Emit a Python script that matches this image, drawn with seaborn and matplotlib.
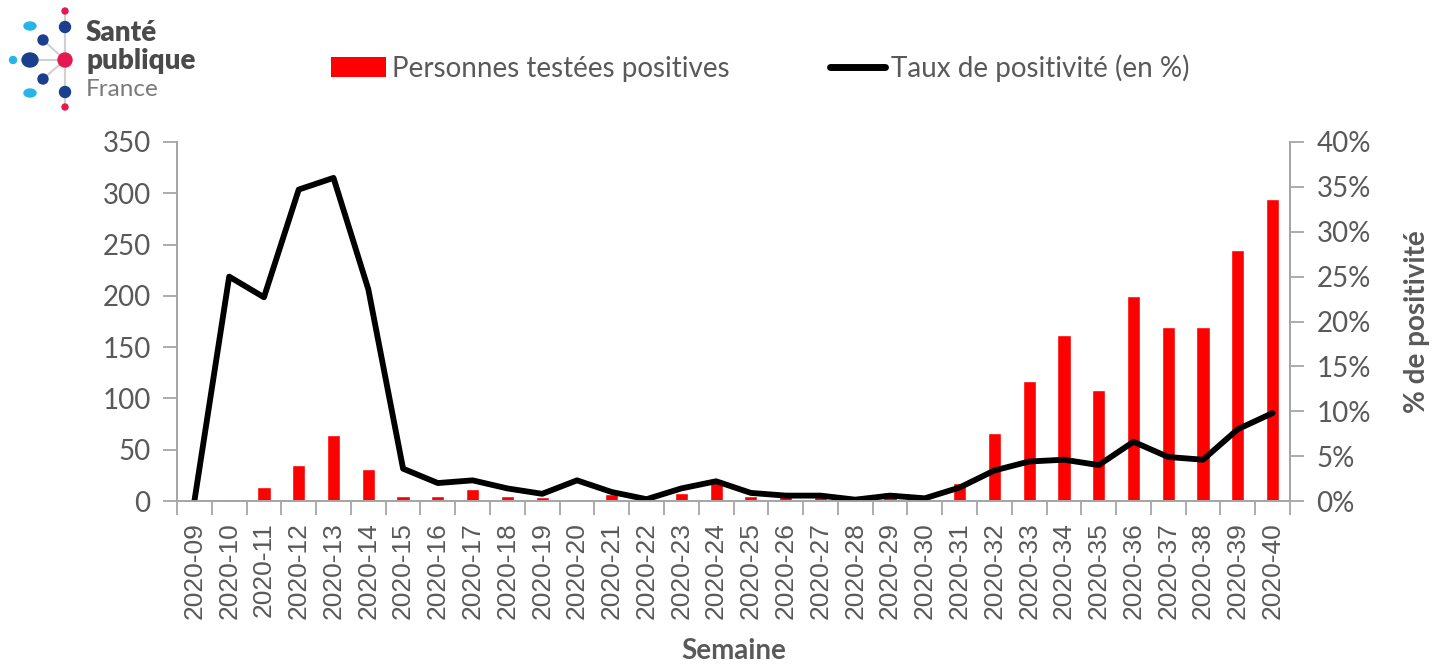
import numpy as np
import pandas as pd
import matplotlib
matplotlib.use("Agg")
import matplotlib.pyplot as plt
import matplotlib.ticker as mticker
from matplotlib.patches import Patch, Ellipse
from matplotlib.lines import Line2D
import seaborn as sns

weeks = [f"2020-{w:02d}" for w in range(9, 41)]
positives = [0, 2, 14, 35, 64, 31, 5, 5, 12, 5, 4, 0, 7, 0, 8, 20,
             5, 5, 7, 0, 9, 1, 18, 66, 117, 162, 108, 200, 170, 170, 245, 294]
taux = [0.0, 25.0, 22.7, 34.7, 36.0, 23.6, 3.6, 2.0, 2.3, 1.4, 0.8, 2.3,
        1.0, 0.2, 1.4, 2.2, 0.9, 0.6, 0.6, 0.15, 0.6, 0.3, 1.5, 3.4,
        4.4, 4.6, 4.0, 6.6, 4.9, 4.6, 8.0, 9.8]

df = pd.DataFrame({"semaine": weeks, "positives": positives, "taux": np.array(taux) / 100})

sns.set_theme(style="white")
plt.rcParams["font.family"] = ["Lato", "DejaVu Sans"]
grey = "#595959"
spine_c = "#a6a6a6"

fig = plt.figure(figsize=(14.49, 6.69), dpi=100)
ax = fig.add_axes([177 / 1449, 1 - 501 / 669, 1113 / 1449, 359 / 669])

sns.barplot(data=df, x="semaine", y="positives", color="#ff0000", width=0.38,
            saturation=1, ax=ax)
ax.set_ylim(0, 350)
ax.set_yticks(range(0, 351, 50))
ax.set_xlim(-0.5, len(weeks) - 0.5)
ax.set_xlabel("Semaine", fontsize=20, fontweight="bold", color=grey, labelpad=14)
ax.set_ylabel("")

ax2 = ax.twinx()
sns.lineplot(data=df, x="semaine", y="taux", color="black", linewidth=4.2,
             sort=False, ax=ax2, solid_joinstyle="round", solid_capstyle="round")
ax2.set_ylim(0, 0.40)
ax2.set_yticks(np.arange(0, 0.401, 0.05))
ax2.yaxis.set_major_formatter(mticker.PercentFormatter(1.0, decimals=0))
ax2.set_ylabel("% de positivité", fontsize=20, fontweight="bold", color=grey, labelpad=24)
ax2.set_xlim(-0.5, len(weeks) - 0.5)

for a in (ax, ax2):
    a.spines["top"].set_visible(False)
    for s in ("left", "right", "bottom"):
        a.spines[s].set_color(spine_c)
        a.spines[s].set_linewidth(1.3)
    a.tick_params(axis="y", labelsize=20, labelcolor=grey, color=spine_c,
                  length=10, width=1.3, direction="out", pad=9,
                  left=(a is ax), right=(a is ax2))

ax.set_xticks(range(len(weeks)))
ax.set_xticklabels(weeks, rotation=90, family="Liberation Sans", fontsize=19, color=grey)
ax.tick_params(axis="x", which="major", length=0, pad=15)
ax.set_xticks(np.arange(-0.5, len(weeks), 1), minor=True)
ax.tick_params(axis="x", which="minor", length=10, width=1.3, color=spine_c, bottom=True)
ax2.tick_params(axis="x", bottom=False, labelbottom=False)

handles = [Patch(facecolor="#ff0000", edgecolor="none", label="Personnes testées positives"),
           Line2D([0], [0], color="black", linewidth=5, label="Taux de positivité (en %)")]
fig.legend(handles=handles, loc="center", bbox_to_anchor=(760 / 1449, 1 - 68 / 669),
           ncol=2, frameon=False, fontsize=20, labelcolor=grey, columnspacing=3.6,
           handlelength=2.0, handletextpad=0.2)

# logo
lg = fig.add_axes([0, 1 - 115 / 669, 210 / 1449, 115 / 669])
lg.set_xlim(0, 210)
lg.set_ylim(115, 0)
lg.axis("off")
lg.plot([65, 65], [12, 107], color="#d0d0d0", lw=1.5, zorder=1)
for (x, y) in [(43, 40), (43, 79), (30, 60)]:
    lg.plot([65, x], [60, y], color="#d0d0d0", lw=1.5, zorder=1)
dots = [(65, 60, 14, 14, "#e5194f"), (65, 27, 11, 11, "#1b3f8f"), (65, 92, 11, 11, "#1b3f8f"),
        (65, 11, 6, 6, "#e5194f"), (65, 107, 6, 6, "#e5194f"), (30, 60, 16, 14, "#1b3f8f"),
        (13, 60, 7, 7, "#27b4e8"), (43, 40, 10, 10, "#1b3f8f"), (43, 79, 10, 10, "#1b3f8f"),
        (30, 26, 12, 8, "#27b4e8"), (30, 93, 12, 8, "#27b4e8")]
for x, y, w, h, c in dots:
    lg.add_patch(Ellipse((x, y), w, h, color=c, zorder=2))
lg.text(86, 33, "Santé", fontsize=20, fontweight="heavy", color="#4a4a4a", va="center")
lg.text(86, 61, "publique", fontsize=20, fontweight="heavy", color="#4a4a4a", va="center")
lg.text(86, 90, "France", fontsize=17.5, color="#7a7a7a", va="center")

fig.savefig("out.png", dpi=100)
